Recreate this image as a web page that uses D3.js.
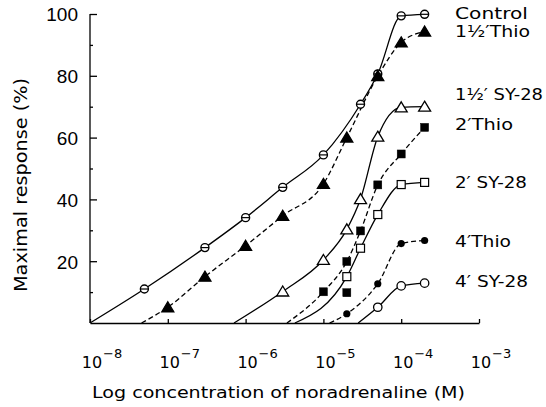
<!DOCTYPE html>
<html><head><meta charset="utf-8">
<script src="https://cdn.jsdelivr.net/npm/d3@7/dist/d3.min.js"></script>
<style>body{margin:0;background:#fff}svg{display:block}</style>
</head><body><svg id="c" width="546" height="407"></svg>
<script>
// ---------- DATA ----------
const seriesNames = ["Control", "1½′Thio", "1½′ SY-28", "2′Thio", "2′ SY-28", "4′Thio", "4′ SY-28"];
const controlConc = [5e-8, 3e-7, 1e-6, 3e-6, 1e-5, 3e-5, 5e-5, 1e-4, 2e-4];
const controlResp = [11.0, 24.4, 34.1, 43.9, 54.4, 70.8, 80.6, 99.4, 99.9];
const thio15Conc = [1e-7, 3e-7, 1e-6, 3e-6, 1e-5, 2e-5, 5e-5, 1e-4, 2e-4];
const thio15Resp = [5.1, 15.0, 25.0, 34.7, 45.0, 60.0, 79.9, 90.8, 94.3];
const sy15Conc = [3e-6, 1e-5, 2e-5, 3e-5, 5e-5, 1e-4, 2e-4];
const sy15Resp = [10.2, 20.4, 30.3, 40.1, 60.3, 69.8, 70.0];
const thio2Conc = [1e-5, 2e-5, 3e-5, 5e-5, 1e-4, 2e-4];
const thio2Resp = [10.1, 19.9, 29.8, 44.7, 54.7, 63.3];
const thio2ExtraConc = [2e-5];
const thio2ExtraResp = [9.8];
const sy2Conc = [2e-5, 3e-5, 5e-5, 1e-4, 2e-4];
const sy2Resp = [15.0, 24.2, 35.1, 44.8, 45.5];
const thio4Conc = [2e-5, 5e-5, 1e-4, 2e-4];
const thio4Resp = [3.0, 12.7, 25.7, 26.7];
const sy4Conc = [5e-5, 1e-4, 2e-4];
const sy4Resp = [5.1, 12.0, 12.9];
// concentration where each fitted curve leaves the baseline (response 0)
const curveStartConc = [1e-8, 4.6e-8, 7.1e-7, 3.4e-6, 4.3e-6, 1.2e-5, 2.8e-5];
const xTickExponents = [-8, -7, -6, -5, -4, -3];
const yTickLabels = [20, 40, 60, 80, 100];
const yMinorTicks = [10, 30, 50, 70, 90];

// ---------- STYLE / LAYOUT ----------
const markers = ["circleBar", "triFilled", "triOpen", "sqFilled", "sqOpen", "dotFilled", "dotOpen"];
const dashed = [false, true, false, true, false, true, false];
const labelBaselines = [19, 37, 100, 130, 188, 247, 287];
const labelWidths = [73, 75, 88, 58, 72, 56, 73];

const svg = d3.select("#c");
const x = d3.scaleLog().domain([1e-8, 1e-3]).range([90, 479]);
const y = d3.scaleLinear().domain([0, 100]).range([323, 14]);

const series = [
  [controlConc, controlResp], [thio15Conc, thio15Resp], [sy15Conc, sy15Resp],
  [thio2Conc, thio2Resp], [sy2Conc, sy2Resp], [thio4Conc, thio4Resp], [sy4Conc, sy4Resp]
].map((s, i) => ({
  name: seriesNames[i], marker: markers[i], dashed: dashed[i],
  pts: s[0].map((c, j) => ({c, r: s[1][j]})),
  start: {c: curveStartConc[i], r: 0}
}));

// axes
const yAxis = d3.axisLeft(y).tickValues(yTickLabels).tickSize(-7).tickSizeOuter(0).tickPadding(12);
const gy = svg.append("g").attr("transform", "translate(90,0)").call(yAxis);
gy.selectAll("text").attr("font-family", "Liberation Sans, Arial, sans-serif").attr("font-size", 19).attr("fill", "#000").attr("dy", "0.36em");
gy.select(".domain").attr("d", `M0,${y(0)}V${y(100)}`);
const gy2 = svg.append("g").attr("transform", "translate(90,0)")
  .call(d3.axisLeft(y).tickValues(yMinorTicks).tickSize(-3).tickSizeOuter(0).tickFormat(""));
gy2.select(".domain").remove();

const xAxis = d3.axisBottom(x).tickValues(xTickExponents.map(e => Math.pow(10, e))).tickSize(-4).tickSizeOuter(0).tickFormat("");
const gx = svg.append("g").attr("transform", `translate(0,${y(0)})`).call(xAxis);
svg.selectAll(".domain, .tick line").attr("stroke", "#000").attr("stroke-width", 1.3);

// x tick labels 10^n
const xl = svg.append("g").attr("font-family", "DejaVu Sans, sans-serif").attr("fill", "#000");
xTickExponents.forEach(e => {
  const px = x(Math.pow(10, e));
  xl.append("text").attr("x", px + 2).attr("y", 368).attr("text-anchor", "middle").attr("font-size", 16).text("10");
  xl.append("text").attr("x", px + 13).attr("y", 358).attr("font-size", 13).text("−" + (-e));
});

// titles
svg.append("text").attr("x", 92).attr("y", 398).attr("font-family", "DejaVu Sans, sans-serif")
  .attr("font-size", 16).attr("textLength", 373).attr("lengthAdjust", "spacingAndGlyphs")
  .text("Log concentration of noradrenaline (M)");
svg.append("text").attr("transform", "translate(27,185) rotate(-90)").attr("text-anchor", "middle")
  .attr("font-family", "DejaVu Sans, sans-serif").attr("font-size", 18)
  .attr("textLength", 214).attr("lengthAdjust", "spacingAndGlyphs")
  .text("Maximal response (%)");

// curves
const line = d3.line().x(d => x(d.c)).y(d => y(d.r)).curve(d3.curveMonotoneX);
series.forEach(s => {
  svg.append("path").attr("d", line([s.start, ...s.pts])).attr("fill", "none")
    .attr("stroke", "#000").attr("stroke-width", 1.3)
    .attr("stroke-dasharray", s.dashed ? "5,3" : null);
});

// markers
function drawMarker(g, type, px, py) {
  const k = "#000";
  if (type === "circleBar") {
    g.append("circle").attr("cx", px).attr("cy", py).attr("r", 4).attr("fill", "#fff").attr("stroke", k).attr("stroke-width", 1.4);
    g.append("line").attr("x1", px - 4).attr("x2", px + 4).attr("y1", py).attr("y2", py).attr("stroke", k).attr("stroke-width", 1.2);
  } else if (type === "triFilled" || type === "triOpen") {
    const h = 10, w = 12;
    g.append("path").attr("d", `M${px},${py - h * 0.55}L${px + w / 2},${py + h * 0.45}L${px - w / 2},${py + h * 0.45}Z`)
      .attr("fill", type === "triFilled" ? k : "#fff").attr("stroke", k).attr("stroke-width", 1.3).attr("stroke-linejoin", "miter");
  } else if (type === "sqFilled" || type === "sqOpen") {
    const a = 8;
    g.append("rect").attr("x", px - a / 2).attr("y", py - a / 2).attr("width", a).attr("height", a)
      .attr("fill", type === "sqFilled" ? k : "#fff").attr("stroke", k).attr("stroke-width", type === "sqFilled" ? 0.5 : 1.2);
  } else if (type === "dotFilled") {
    g.append("circle").attr("cx", px).attr("cy", py).attr("r", 3.6).attr("fill", k);
  } else {
    g.append("circle").attr("cx", px).attr("cy", py).attr("r", 4.2).attr("fill", "#fff").attr("stroke", k).attr("stroke-width", 1.3);
  }
}
const gm = svg.append("g");
series.forEach(s => s.pts.forEach(p => drawMarker(gm, s.marker, x(p.c), y(p.r))));
thio2ExtraConc.forEach((c, j) => drawMarker(gm, "sqFilled", x(c), y(thio2ExtraResp[j])));

// series labels
const gl = svg.append("g").attr("font-family", "DejaVu Sans, sans-serif").attr("font-size", 15).attr("fill", "#000");
seriesNames.forEach((n, i) => {
  gl.append("text").attr("x", 455).attr("y", labelBaselines[i])
    .attr("textLength", labelWidths[i]).attr("lengthAdjust", "spacingAndGlyphs").text(n);
});
</script>
</body></html>
